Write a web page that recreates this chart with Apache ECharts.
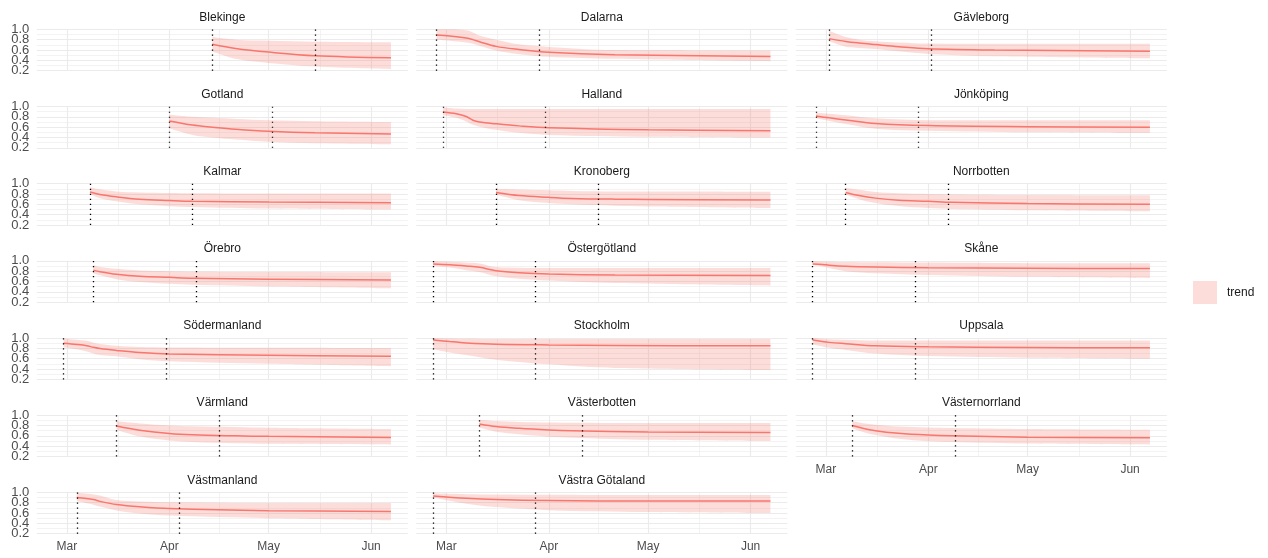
<!DOCTYPE html>
<html>
<head>
<meta charset="utf-8">
<script src="https://cdn.jsdelivr.net/npm/echarts@6/dist/echarts.min.js"></script>
<style>
  html, body { margin: 0; padding: 0; background: #ffffff; }
  #chart { width: 1268px; height: 558px; }
</style>
</head>
<body>
<div id="chart"></div>
<script>
const _ = null;

// Counties, in facet order (three per row)
const regions = [
  'Blekinge', 'Dalarna', 'Gävleborg',
  'Gotland', 'Halland', 'Jönköping',
  'Kalmar', 'Kronoberg', 'Norrbotten',
  'Örebro', 'Östergötland', 'Skåne',
  'Södermanland', 'Stockholm', 'Uppsala',
  'Värmland', 'Västerbotten', 'Västernorrland',
  'Västmanland', 'Västra Götaland'
];

// First dotted line: where each county's curve starts
const startDates = [
  '2020-04-14', '2020-02-27', '2020-03-02',
  '2020-04-01', '2020-02-29', '2020-02-27',
  '2020-03-08', '2020-03-16', '2020-03-07',
  '2020-03-09', '2020-02-26', '2020-02-26',
  '2020-02-29', '2020-02-26', '2020-02-26',
  '2020-03-16', '2020-03-11', '2020-03-09',
  '2020-03-04', '2020-02-26'
];

// Second dotted line, one month after the start
const markDates = [
  '2020-05-15', '2020-03-29', '2020-04-02',
  '2020-05-02', '2020-03-31', '2020-03-29',
  '2020-04-08', '2020-04-16', '2020-04-07',
  '2020-04-09', '2020-03-28', '2020-03-28',
  '2020-03-31', '2020-03-28', '2020-03-28',
  '2020-04-16', '2020-04-11', '2020-04-09',
  '2020-04-04', '2020-03-28'
];

// Month breaks of the date axis (labelled Mar, Apr, May, Jun)
const monthBreaks = ['2020-03-01', '2020-04-01', '2020-05-01', '2020-06-01'];

// Tick labels of the value axis
const yTicks = [0.2, 0.4, 0.6, 0.8, 1.0];

// Dates at which the trend and its band are sampled
const sampleDates = [
  '2020-02-26', '2020-02-27', '2020-02-29', '2020-03-02', '2020-03-04', '2020-03-07',
  '2020-03-08', '2020-03-09', '2020-03-11', '2020-03-16', '2020-03-23', '2020-04-01',
  '2020-04-08', '2020-04-14', '2020-04-21', '2020-05-01', '2020-05-15', '2020-06-07'
];

// Trend estimate per county (null = not sampled)
const trendValues = [
  [_, _, _, _, _, _, _, _, _, _, _, _, _, .71, .63, .56, .49, .45],
  [_, .89, _, .87, _, .83, _, .80, .76, .67, .61, .555, _, _, .51, _, _, .475],
  [_, _, _, .82, _, .765, _, _, .735, .705, .665, .625, _, _, .60, _, _, .575],
  [_, _, _, _, _, _, _, _, _, _, _, .72, .64, .60, .56, .52, .49, .47],
  [_, _, .895, _, .86, .805, _, .735, .70, .665, .625, .59, _, _, _, .55, _, .53],
  [_, .815, _, .78, _, .74, _, _, _, .67, _, .63, _, _, _, .61, _, .60],
  [_, _, _, _, _, _, .84, _, .79, .745, .70, .675, .66, _, _, .645, _, .63],
  [_, _, _, _, _, _, _, _, _, .83, .77, .735, .715, _, .70, .695, _, .685],
  [_, _, _, _, _, .83, _, _, .77, .72, .68, .66, .64, _, _, .615, _, .60],
  [_, _, _, _, _, _, _, .82, .79, .74, .70, .68, .665, _, _, .645, _, .63],
  [.94, _, _, .925, _, .90, _, _, .875, .81, .77, .745, _, _, .725, _, _, .715],
  [.94, _, .93, .915, _, .895, _, _, _, .88, _, .865, _, _, _, .855, _, .85],
  [_, _, .90, _, .875, .85, _, .82, .795, .76, .72, .69, _, _, _, .665, _, .645],
  [.96, _, _, .93, _, .905, _, _, _, .88, _, .865, _, _, .855, _, _, .85],
  [.96, _, _, .915, _, .89, _, _, _, .85, _, .83, _, _, _, .815, _, .81],
  [_, _, _, _, _, _, _, _, _, .79, .71, .645, .62, _, .60, .59, _, .57],
  [_, _, _, _, _, _, _, _, .83, .78, .745, .715, .70, _, _, .675, _, .665],
  [_, _, _, _, _, _, _, .80, .765, .70, .65, .615, .60, _, _, .575, _, .565],
  [_, _, _, _, .90, _, _, .86, .825, .765, .72, .685, _, _, _, .645, _, .63],
  [.93, _, _, _, _, .885, _, _, _, .86, _, .84, _, _, _, .83, _, .83]
];

// Lower edge of the band
const lowerValues = [
  [_, _, _, _, _, _, _, _, _, _, _, _, _, .57, .43, .35, .28, .23],
  [_, .80, _, .78, _, .745, _, .72, .68, .59, .52, .47, _, _, .43, _, _, .38],
  [_, _, _, .77, _, .665, _, _, .64, .62, .575, .525, _, _, .48, _, _, .44],
  [_, _, _, _, _, _, _, _, _, _, _, .58, .45, .40, .36, .32, .29, .27],
  [_, _, .83, _, .78, .71, _, .645, .61, .55, .49, .45, _, _, _, .415, _, .40],
  [_, .77, _, .72, _, .66, _, _, _, .57, _, .53, _, _, _, .50, _, .485],
  [_, _, _, _, _, _, .80, _, .72, .66, .60, .565, .55, _, _, .52, _, .50],
  [_, _, _, _, _, _, _, _, _, .79, .68, .625, .60, _, .575, .56, _, .53],
  [_, _, _, _, _, .79, _, _, .70, .625, .57, .53, .51, _, _, .485, _, .465],
  [_, _, _, _, _, _, _, .76, .72, .645, .59, .555, .535, _, _, .505, _, .47],
  [.90, _, _, .87, _, .82, _, _, .785, .70, .655, .62, _, _, .57, _, _, .52],
  [.92, _, .89, .86, _, .80, _, _, _, .76, _, .725, _, _, _, .69, _, .665],
  [_, _, .82, _, .78, .74, _, .70, .67, .645, .59, .55, _, _, _, .50, _, .45],
  [.78, _, _, .72, _, .67, _, _, _, .58, _, .49, _, _, .42, _, _, .38],
  [.88, _, _, .81, _, .77, _, _, _, .70, _, .65, _, _, _, .62, _, .60],
  [_, _, _, _, _, _, _, _, _, .72, .59, .51, .48, _, .455, .445, _, .43],
  [_, _, _, _, _, _, _, _, .76, .68, .63, .585, .565, _, _, .525, _, .50],
  [_, _, _, _, _, _, _, .75, .70, .615, .545, .495, .48, _, _, .45, _, .43],
  [_, _, _, _, .83, _, _, .76, .725, .65, .59, .55, _, _, _, .50, _, .46],
  [.90, _, _, _, _, .78, _, _, _, .715, _, .655, _, _, _, .62, _, .60]
];

// Upper edge of the band
const upperValues = [
  [_, _, _, _, _, _, _, _, _, _, _, _, _, .85, .80, .78, .76, .75],
  [_, 1.0, _, 1.0, _, .98, _, .94, .88, .80, .71, .66, _, _, .60, _, _, .59],
  [_, _, _, .97, _, .85, _, _, .80, .77, .745, .725, _, _, .72, _, _, .72],
  [_, _, _, _, _, _, _, _, _, _, _, .84, .80, .78, .76, .735, .715, .70],
  [_, _, .98, _, .96, .95, _, .95, .95, .95, .95, .95, _, _, _, .95, _, .95],
  [_, .88, _, .86, _, .83, _, _, _, .77, _, .735, _, _, _, .735, _, .735],
  [_, _, _, _, _, _, .93, _, .89, .85, .83, .82, .815, _, _, .81, _, .81],
  [_, _, _, _, _, _, _, _, _, .90, .885, .87, .86, _, .85, .85, _, .845],
  [_, _, _, _, _, .92, _, _, .88, .84, .815, .80, .79, _, _, .78, _, .775],
  [_, _, _, _, _, _, _, .92, .88, .845, .815, .80, .79, _, _, .785, _, .78],
  [.99, _, _, .98, _, .965, _, _, .95, .88, .865, .86, _, _, .86, _, _, .86],
  [.99, _, .985, .98, _, .975, _, _, _, .97, _, .965, _, _, _, .955, _, .955],
  [_, _, .99, _, .965, .945, _, .91, .885, .85, .825, .815, _, _, _, .81, _, .805],
  [1.0, _, _, .99, _, .985, _, _, _, .98, _, .98, _, _, .98, _, _, .98],
  [1.0, _, _, .975, _, .965, _, _, _, .95, _, .95, _, _, _, .95, _, .95],
  [_, _, _, _, _, _, _, _, _, .88, .84, .80, .785, _, .77, .755, _, .73],
  [_, _, _, _, _, _, _, _, .91, .885, .87, .86, .855, _, _, .85, _, .85],
  [_, _, _, _, _, _, _, .88, .86, .815, .78, .76, .75, _, _, .73, _, .715],
  [_, _, _, _, .99, _, _, .96, .94, .85, .825, .81, _, _, _, .795, _, .795],
  [.98, _, _, _, _, .965, _, _, _, .96, _, .955, _, _, _, .95, _, .95]
];

const FONT = "'Liberation Sans', Arial, Helvetica, sans-serif";
const LINE_COLOR = '#F8766D';
const BAND_COLOR = 'rgba(248,118,109,0.25)';
const GRID_COLOR = '#ebebeb';
const AXIS_TEXT = '#4d4d4d';

const ts = d => Date.parse(d + 'T00:00:00Z');
const firstDay = ts(sampleDates[0]);
const lastDay = ts(sampleDates[sampleDates.length - 1]);
const pad = (lastDay - firstDay) * 0.05;
const xMin = firstDay - pad;
const xMax = lastDay + pad;

const yMin = yTicks[0];
const yMax = yTicks[yTicks.length - 1];
const yStep = yTicks[1] - yTicks[0];

// Major vertical grid at month breaks, minor halfway between them
const majorX = monthBreaks.map(ts);
const minorX = majorX.slice(1).map((b, k) => (majorX[k] + b) / 2);

// Panel layout
const nCols = 3;
const panelW = 371, panelH = 41.4;
const left0 = 36.8, colStep = 379.5;
const top0 = 29.3, rowStep = 77.17;

const grids = [], xAxes = [], yAxes = [], titles = [], series = [];
// Label-only axes for the left column: the tick labels are packed tightly,
// so alternate ticks go on two stacked axes sharing the panel's value scale
const labelGrids = [], labelX = [], labelY = [];

const yLabelStyle = {
  formatter: v => v.toFixed(1),
  color: AXIS_TEXT,
  fontFamily: FONT,
  fontSize: 13,
  margin: 7.5,
  showMinLabel: true,
  showMaxLabel: true
};

function addLabelAxis(left, top, lo, hi, step) {
  const frac = v => (v - yMin) / (yMax - yMin);
  labelGrids.push({
    left: left,
    top: top + (1 - frac(hi)) * panelH,
    width: panelW,
    height: (frac(hi) - frac(lo)) * panelH
  });
  const idx = regions.length + labelGrids.length - 1;
  labelX.push({ type: 'value', gridIndex: idx, show: false, min: 0, max: 1 });
  labelY.push({
    type: 'value', gridIndex: idx, min: lo, max: hi, interval: step,
    axisLine: { show: false }, axisTick: { show: false }, splitLine: { show: false },
    axisLabel: yLabelStyle
  });
}

regions.forEach((name, i) => {
  const col = i % nCols;
  const row = Math.floor(i / nCols);
  const left = left0 + col * colStep;
  const top = top0 + row * rowStep;
  const isBottom = i + nCols >= regions.length;

  grids.push({ left: left, top: top, width: panelW, height: panelH, containLabel: false });

  titles.push({
    text: name,
    left: left + panelW / 2,
    top: top - 18,
    textAlign: 'center',
    padding: 0,
    textStyle: { fontFamily: FONT, fontSize: 12, fontWeight: 'normal', color: '#1a1a1a' }
  });

  xAxes.push({
    type: 'time',
    gridIndex: i,
    min: xMin,
    max: xMax,
    splitNumber: 4,
    axisLine: { show: false },
    axisTick: { show: false },
    axisLabel: {
      show: isBottom,
      formatter: '{MMM}',
      color: AXIS_TEXT,
      fontFamily: FONT,
      fontSize: 12,
      margin: 7
    },
    splitLine: { show: false },
    minorSplitLine: { show: false }
  });

  yAxes.push({
    type: 'value',
    gridIndex: i,
    min: yMin,
    max: yMax,
    interval: yStep,
    axisLine: { show: false },
    axisTick: { show: false },
    axisLabel: { show: false },
    splitLine: { show: true, lineStyle: { color: GRID_COLOR, width: 1.1 } },
    minorTick: { show: false, splitNumber: 2 },
    minorSplitLine: { show: true, lineStyle: { color: GRID_COLOR, width: 0.6 } }
  });

  if (col === 0) {
    // 0.2, 0.6, 1.0 on one axis; 0.4, 0.8 on the other
    addLabelAxis(left, top, yTicks[0], yTicks[4], 2 * yStep);
    addLabelAxis(left, top, yTicks[1], yTicks[3], 2 * yStep);
  }

  const lo = [], band = [], mid = [];
  sampleDates.forEach((d, k) => {
    const t = ts(d);
    if (lowerValues[i][k] !== null && upperValues[i][k] !== null) {
      lo.push([t, lowerValues[i][k]]);
      band.push([t, +(upperValues[i][k] - lowerValues[i][k]).toFixed(4)]);
    }
    if (trendValues[i][k] !== null) mid.push([t, trendValues[i][k]]);
  });

  const stackId = 'band' + i;
  const smooth = 0.35;

  // Lower edge of the band (invisible), also carries the vertical grid
  series.push({
    type: 'line',
    name: 'lower',
    xAxisIndex: i,
    yAxisIndex: i,
    stack: stackId,
    data: lo,
    smooth: smooth,
    symbol: 'none',
    silent: true,
    lineStyle: { opacity: 0 },
    z: 2,
    markLine: {
      silent: true,
      symbol: 'none',
      z: 1,
      label: { show: false },
      lineStyle: { color: GRID_COLOR, type: 'solid' },
      data: majorX.map(x => ({ xAxis: x, lineStyle: { width: 1.1 } }))
        .concat(minorX.map(x => ({ xAxis: x, lineStyle: { width: 0.6 } })))
    }
  });

  // Band between lower and upper edge
  series.push({
    type: 'line',
    name: 'trend',
    xAxisIndex: i,
    yAxisIndex: i,
    stack: stackId,
    data: band,
    smooth: smooth,
    symbol: 'none',
    silent: true,
    color: BAND_COLOR,
    lineStyle: { opacity: 0 },
    areaStyle: { color: BAND_COLOR, opacity: 1 },
    z: 2
  });

  // Trend line with the two dotted date markers
  series.push({
    type: 'line',
    name: 'trend line',
    xAxisIndex: i,
    yAxisIndex: i,
    data: mid,
    smooth: smooth,
    symbol: 'none',
    silent: true,
    lineStyle: { color: LINE_COLOR, width: 1.5 },
    z: 3,
    markLine: {
      silent: true,
      symbol: 'none',
      label: { show: false },
      lineStyle: { color: '#000000', type: [1.2, 3.8], width: 1.3, cap: 'butt' },
      data: [{ xAxis: ts(startDates[i]) }, { xAxis: ts(markDates[i]) }]
    }
  });
});

const chart = echarts.init(document.getElementById('chart'), null, { renderer: 'canvas' });
chart.setOption({
  animation: false,
  useUTC: true,
  backgroundColor: '#ffffff',
  title: titles,
  grid: grids.concat(labelGrids),
  xAxis: xAxes.concat(labelX),
  yAxis: yAxes.concat(labelY),
  legend: {
    data: [{ name: 'trend', icon: 'rect', itemStyle: { color: BAND_COLOR } }],
    left: 1193,
    top: 281,
    padding: 0,
    itemWidth: 24,
    itemHeight: 23,
    selectedMode: false,
    textStyle: { fontFamily: FONT, fontSize: 12, color: '#1a1a1a', padding: [0, 0, 0, 5] }
  },
  series: series
});
</script>
</body>
</html>
